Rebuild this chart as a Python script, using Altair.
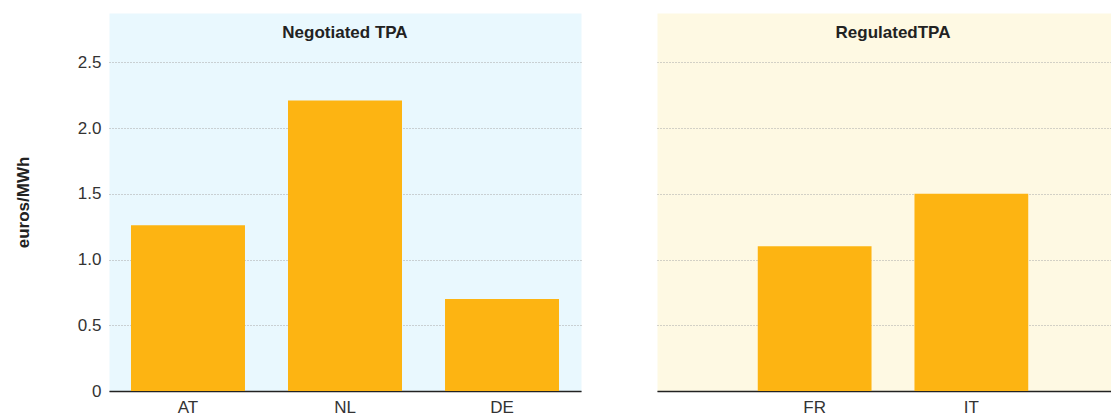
import altair as alt
import pandas as pd

neg_countries = ["AT", "NL", "DE"]
neg_values = [1.26, 2.21, 0.70]
reg_countries = ["FR", "IT"]
reg_values = [1.10, 1.50]
y_ticks = [0, 0.5, 1.0, 1.5, 2.0, 2.5]
panel_titles = ["Negotiated TPA", "RegulatedTPA"]

FONT = "Liberation Sans"
BAR = "#FDB412"
TEXT = "#333333"


def panel(countries, values, title, fill, pad_outer, show_axis):
    df = pd.DataFrame({"country": countries, "value": values})
    common = dict(values=y_ticks, ticks=False, domain=False, grid=True,
                  gridDash=[1, 2], gridColor="#a8a8a8", gridWidth=1)
    if show_axis:
        yaxis = alt.Axis(
            labelExpr="datum.value == 0 ? '0' : format(datum.value, '.1f')",
            title="euros/MWh", labelPadding=8, titlePadding=45,
            titleFontWeight="bold", titleFontSize=17, titleColor="#222222",
            labelFontSize=17, labelColor=TEXT, **common)
    else:
        yaxis = alt.Axis(labels=False, title=None, **common)
    return alt.Chart(
        df,
        title=alt.TitleParams(title, fontSize=17, fontWeight="bold", offset=-29,
                              font=FONT, color="#222222"),
        view=alt.ViewBackground(fill=fill, stroke="transparent"),
    ).mark_bar(color=BAR).encode(
        x=alt.X("country:N", sort=countries,
                scale=alt.Scale(paddingInner=0.274, paddingOuter=pad_outer),
                axis=alt.Axis(title=None, labelAngle=0, ticks=False, labelPadding=8,
                              domainColor="#222222", domainWidth=1.5,
                              labelFontSize=17, labelColor=TEXT, grid=False)),
        y=alt.Y("value:Q", scale=alt.Scale(domain=[0, 2.875], nice=False), axis=yaxis),
    ).properties(width=472, height=378)


left = panel(neg_countries, neg_values, panel_titles[0], "#E9F8FE", 0.14, True)
right = panel(reg_countries, reg_values, panel_titles[1], "#FEF9E3", 0.643, False)

chart = alt.hconcat(
    left, right, spacing=74,
    padding={"left": 5, "top": 4, "right": -19, "bottom": 5},
).resolve_scale(
    x="independent", y="independent"
).configure(font=FONT, background="white")

chart.save("out.html", embed_options={"renderer": "svg", "actions": False})
